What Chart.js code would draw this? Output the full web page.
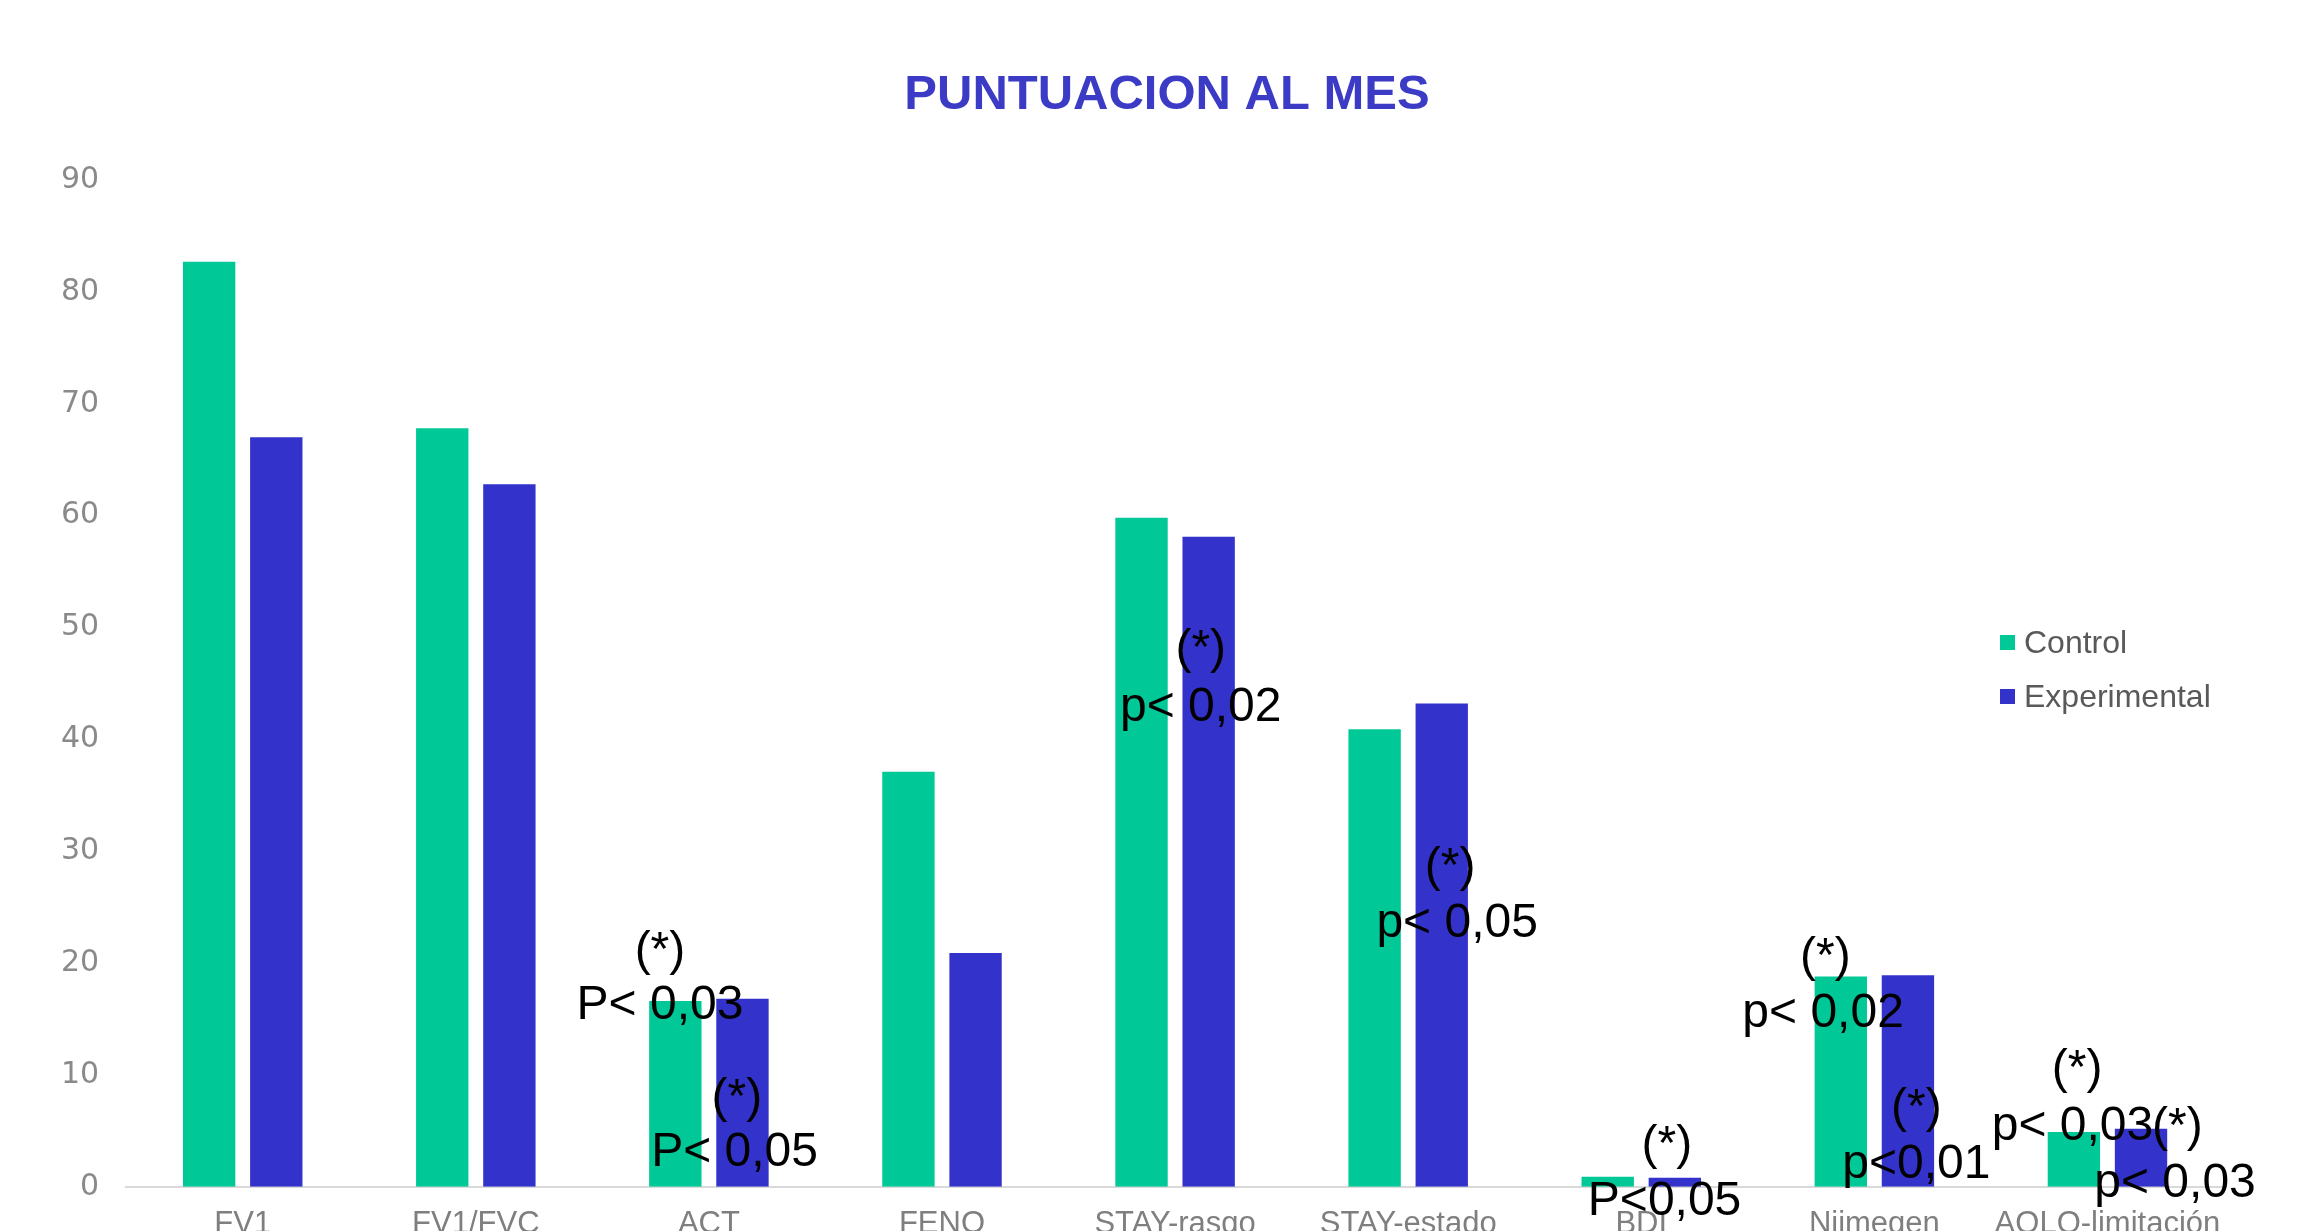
<!DOCTYPE html>
<html>
<head>
<meta charset="utf-8">
<script src="https://cdn.jsdelivr.net/npm/chart.js@4"></script>
<style>
    html, body { margin: 0; padding: 0; background: #fff; overflow: hidden; }
    #wrap { width: 2308px; height: 1275px; position: relative; }
</style>
</head>
<body>
<div id="wrap"><canvas id="grafico"></canvas></div>
<script>
// datos
const categorias = ['FV1', 'FV1/FVC', 'ACT', 'FENO', 'STAY-rasgo', 'STAY-estado', 'BDI', 'Nijmegen', 'AQLQ-limitación']
const control = [82.7, 67.8, 16.6, 37.1, 59.8, 40.9, 0.9, 18.8, 4.9]
const experimental = [67.0, 62.8, 16.8, 20.9, 58.1, 43.2, 0.8, 18.9, 5.2]
const ticksY = [0, 10, 20, 30, 40, 50, 60, 70, 80, 90]

// notas de significacion: categoria, desplazamiento en x, valor y, texto
const notas = [
    [2, -0.21, 21.0, '(*)'], [2, -0.21, 16.2, 'P< 0,03'],
    [2, 0.12, 7.9, '(*)'], [2, 0.11, 3.0, 'P< 0,05'],
    [4, 0.11, 48.0, '(*)'], [4, 0.11, 42.8, 'p< 0,02'],
    [5, 0.18, 28.5, '(*)'], [5, 0.21, 23.5, 'p< 0,05'],
    [6, 0.11, 3.7, '(*)'], [6, 0.10, -1.3, 'P<0,05'],
    [7, -0.21, 20.5, '(*)'], [7, -0.22, 15.5, 'p< 0,02'],
    [7, 0.18, 7.0, '(*)'], [7, 0.18, 2.0, 'p<0,01'],
    [8, -0.13, 10.5, '(*)'], [8, -0.15, 5.4, 'p< 0,03'],
    [8, 0.30, 5.3, '(*)'], [8, 0.29, 0.3, 'p< 0,03']
]

const verde = '#00C896'
const azul = '#3333CC'

const extras = {
    id: 'extras',
    afterDatasetsDraw(chart) {
        const ctx = chart.ctx
        const x = chart.scales.x
        const y = chart.scales.y
        const paso = x.getPixelForValue(1) - x.getPixelForValue(0)
        ctx.save()
        // notas
        ctx.font = '48px "Liberation Sans", Arial, sans-serif'
        ctx.fillStyle = '#000'
        ctx.textAlign = 'center'
        ctx.textBaseline = 'middle'
        notas.forEach(n => {
            ctx.fillText(n[3], x.getPixelForValue(n[0]) + n[1] * paso, y.getPixelForValue(n[2]))
        })
        // titulo
        ctx.font = 'bold 49px "Liberation Sans", Arial, sans-serif'
        ctx.fillStyle = '#3B3BC6'
        ctx.fillText('PUNTUACION AL MES', 1167, 95)
        // leyenda
        ctx.font = '32px "Liberation Sans", Arial, sans-serif'
        ctx.textAlign = 'left'
        chart.data.datasets.forEach((d, i) => {
            const cy = 643 + i * 54
            ctx.fillStyle = d.backgroundColor
            ctx.fillRect(2000, cy - 8, 15, 15)
            ctx.fillStyle = '#595959'
            ctx.fillText(d.label, 2024, cy + 1)
        })
        ctx.restore()
    }
}

new Chart(document.getElementById('grafico'), {
    type: 'bar',
    data: {
        labels: categorias,
        datasets: [
            { label: 'Control', data: control, backgroundColor: verde },
            { label: 'Experimental', data: experimental, backgroundColor: azul }
        ]
    },
    options: {
        responsive: true,
        maintainAspectRatio: false,
        animation: false,
        categoryPercentage: 0.576,
        barPercentage: 0.78,
        layout: { padding: { top: 180, left: 42, right: 84, bottom: 21 } },
        plugins: {
            legend: { display: false },
            title: { display: false },
            tooltip: { enabled: false }
        },
        scales: {
            x: {
                grid: { display: false },
                border: { display: true, color: '#D9D9D9', width: 2 },
                ticks: { color: '#7F7F7F', padding: 11, autoSkip: false, maxRotation: 0,
                         font: { family: 'Liberation Sans', size: 31 } }
            },
            y: {
                min: 0,
                max: 90,
                afterBuildTicks: s => { s.ticks = ticksY.map(v => ({ value: v })) },
                grid: { display: false },
                border: { display: false },
                ticks: { color: '#8A8A8A', padding: 19, font: { family: 'DejaVu Sans', size: 30 } }
            }
        }
    },
    plugins: [extras]
})
</script>
</body>
</html>
